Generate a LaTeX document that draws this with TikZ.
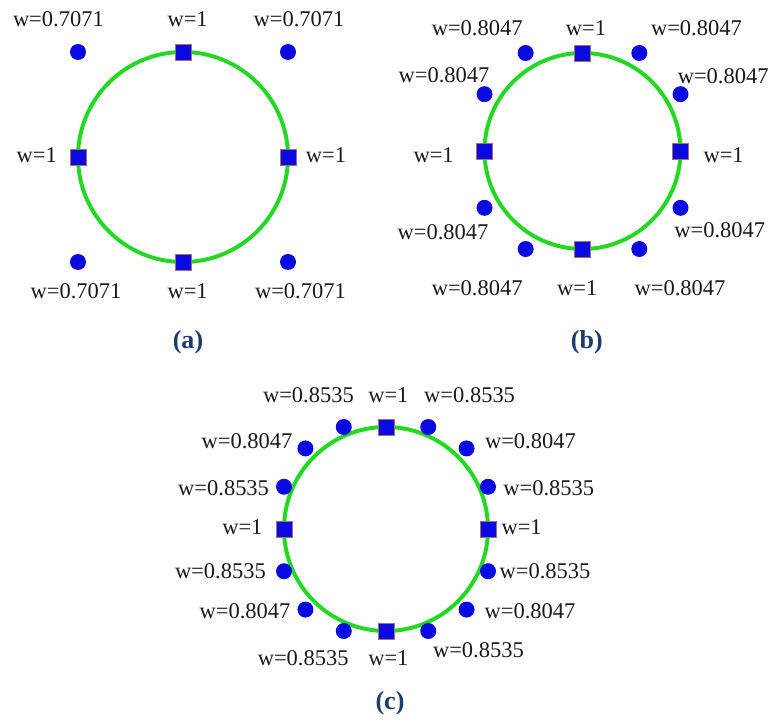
\documentclass[tikz,border=0pt]{standalone}
\usepackage{fontspec}
\setmainfont{Liberation Serif}
\usetikzlibrary{calc}
\definecolor{ringGreen}{HTML}{22D822}
\definecolor{ptBlue}{HTML}{0A0AE0}
\definecolor{sqEdge}{HTML}{A07070}
\definecolor{capNavy}{HTML}{1F3A6E}
\definecolor{inkText}{HTML}{1A1A1A}

\begin{document}
\begin{tikzpicture}[
  every node/.style={text=inkText},
  ring/.style={draw=ringGreen, line width=2.8pt},
  ctrlsq/.style={rectangle, draw=sqEdge, line width=0.5pt, fill=ptBlue,
                 minimum size=0.4cm, inner sep=0pt},
  ctrldot/.style={circle, fill=ptBlue, minimum size=0.4cm, inner sep=0pt},
  wlbl/.style={font=\fontsize{16}{19}\selectfont, inner sep=0pt},
  subcap/.style={font=\fontsize{18.5}{22}\selectfont\bfseries, text=capNavy, inner sep=0pt},
]
\useasboundingbox (0,0) rectangle (19.225,18);

% ---------------- CENTRES ----------------
\coordinate (ca) at (4.575,14.075);
\coordinate (cb) at (14.5625,14.225);
\coordinate (cc) at (9.65,4.775);

% ---------------- RINGS ----------------
\draw[ring] (ca) circle (2.625);
\draw[ring] (cb) circle (2.45);
\draw[ring] (cc) circle (2.55);

% ---------------- CONTROL POINTS ----------------
\foreach \ang in {0,90,180,270} {
  \node[ctrlsq] (sqa-\ang) at ($(ca)+(\ang:2.625)$) {};
  \node[ctrlsq] (sqb-\ang) at ($(cb)+(\ang:2.45)$) {};
  \node[ctrlsq] (sqc-\ang) at ($(cc)+(\ang:2.55)$) {};
}
% (a) corners
\foreach \sx/\sy [count=\i] in {1/1,-1/1,-1/-1,1/-1}
  \node[ctrldot] (dta-\i) at ($(ca)+(\sx*2.625,\sy*2.625)$) {};
% (b) two per quadrant
\foreach \sx/\sy [count=\i] in {0.58/1,-0.58/1,-1/0.58,-1/-0.58,-0.58/-1,0.58/-1,1/-0.58,1/0.58}
  \node[ctrldot] (dtb-\i) at ($(cb)+(\sx*2.45,\sy*2.45)$) {};
% (c) three per quadrant
\foreach \sx/\sy [count=\i] in {0.414/1,-0.414/1,-0.79/0.79,-1/0.414,-1/-0.414,-0.79/-0.79,
                                 -0.414/-1,0.414/-1,0.79/-0.79,1/-0.414,1/0.414,0.79/0.79}
  \node[ctrldot] (dtc-\i) at ($(cc)+(\sx*2.55,\sy*2.55)$) {};

% ---------------- WEIGHTS (a) ----------------
\node[wlbl] (wa1) at (1.46,17.525) {w=0.7071};
\node[wlbl] (wa2) at (4.69,17.525) {w=1};
\node[wlbl] (wa3) at (7.475,17.525) {w=0.7071};
\node[wlbl] (wa4) at (0.92,14.125) {w=1};
\node[wlbl] (wa5) at (8.15,14.125) {w=1};
\node[wlbl] (wa6) at (1.9,10.73) {w=0.7071};
\node[wlbl] (wa7) at (4.69,10.73) {w=1};
\node[wlbl] (wa8) at (7.51,10.73) {w=0.7071};

% ---------------- WEIGHTS (b) ----------------
\node[wlbl] (wb1) at (11.93,17.29) {w=0.8047};
\node[wlbl] (wb2) at (14.65,17.29) {w=1};
\node[wlbl] (wb3) at (17.41,17.29) {w=0.8047};
\node[wlbl] (wb4) at (11.1,16.125) {w=0.8047};
\node[wlbl] (wb5) at (18.08,16.1) {w=0.8047};
\node[wlbl] (wb6) at (10.84,14.125) {w=1};
\node[wlbl] (wb7) at (18.09,14.125) {w=1};
\node[wlbl] (wb8) at (11.075,12.19) {w=0.8047};
\node[wlbl] (wb9) at (17.995,12.25) {w=0.8047};
\node[wlbl] (wb10) at (11.93,10.79) {w=0.8047};
\node[wlbl] (wb11) at (14.43,10.79) {w=1};
\node[wlbl] (wb12) at (17.0,10.79) {w=0.8047};

% ---------------- WEIGHTS (c) ----------------
\node[wlbl] (wc1) at (7.71,8.125) {w=0.8535};
\node[wlbl] (wc2) at (9.71,8.125) {w=1};
\node[wlbl] (wc3) at (11.74,8.125) {w=0.8535};
\node[wlbl] (wc4) at (6.175,6.96) {w=0.8047};
\node[wlbl] (wc5) at (13.26,6.96) {w=0.8047};
\node[wlbl] (wc6) at (5.59,5.79) {w=0.8535};
\node[wlbl] (wc7) at (13.72,5.79) {w=0.8535};
\node[wlbl] (wc8) at (6.06,4.82) {w=1};
\node[wlbl] (wc9) at (13.04,4.82) {w=1};
\node[wlbl] (wc10) at (5.51,3.71) {w=0.8535};
\node[wlbl] (wc11) at (13.625,3.71) {w=0.8535};
\node[wlbl] (wc12) at (6.125,2.73) {w=0.8047};
\node[wlbl] (wc13) at (13.25,2.73) {w=0.8047};
\node[wlbl] (wc14) at (7.58,1.54) {w=0.8535};
\node[wlbl] (wc15) at (9.71,1.54) {w=1};
\node[wlbl] (wc16) at (11.96,1.75) {w=0.8535};

% ---------------- CAPTIONS ----------------
\node[subcap] (capa) at (4.7,9.45) {(a)};
\node[subcap] (capb) at (14.67,9.45) {(b)};
\node[subcap] (capc) at (9.75,0.42) {(c)};
\end{tikzpicture}
\end{document}
